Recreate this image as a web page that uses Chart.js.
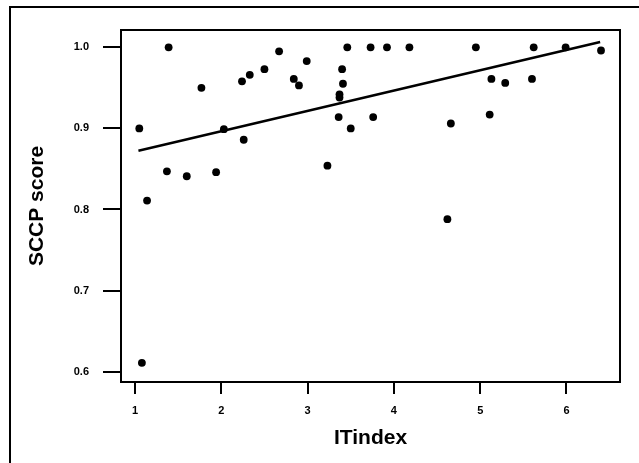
<!DOCTYPE html>
<html>
<head>
<meta charset="utf-8">
<script src="https://cdn.jsdelivr.net/npm/chart.js@4/dist/chart.umd.min.js"></script>
<style>
  body { margin: 0; background: #fff; }
  #wrap { width: 639px; height: 463px; }
</style>
</head>
<body>
<div id="wrap"><canvas id="plot" width="639" height="463"></canvas></div>
<script>
// values
const itIndex = [1.05, 1.08, 1.14, 1.37, 1.39, 1.60, 1.77, 1.94, 2.03, 2.24, 2.26, 2.33, 2.50, 2.67, 2.84, 2.90, 2.99, 3.23, 3.36, 3.37, 3.37, 3.40, 3.41, 3.46, 3.50, 3.73, 3.76, 3.92, 4.18, 4.62, 4.66, 4.95, 5.11, 5.13, 5.29, 5.60, 5.62, 5.99, 6.40];
const sccpScore = [0.900, 0.611, 0.811, 0.847, 1.000, 0.841, 0.950, 0.846, 0.899, 0.958, 0.886, 0.966, 0.973, 0.995, 0.961, 0.953, 0.983, 0.854, 0.914, 0.942, 0.938, 0.973, 0.955, 1.000, 0.900, 1.000, 0.914, 1.000, 1.000, 0.788, 0.906, 1.000, 0.917, 0.961, 0.956, 0.961, 1.000, 1.000, 0.996];

// fitted line ends
const fitX = [1.04, 6.39];
const fitY = [0.8725, 1.0065];

const xTicks = [1, 2, 3, 4, 5, 6];
const yTicks = [0.6, 0.7, 0.8, 0.9, 1.0];

const points = itIndex.map((x, i) => ({ x: x, y: sccpScore[i] }));
const fit = fitX.map((x, i) => ({ x: x, y: fitY[i] }));

const boxes = {
    id: "boxes",
    afterDraw(chart) {
        const ctx = chart.ctx;
        const a = chart.chartArea;
        ctx.save();
        ctx.strokeStyle = "#000";
        ctx.lineWidth = 2;
        ctx.strokeRect(a.left, a.top, a.right - a.left, a.bottom - a.top);
        // outer page border
        ctx.beginPath();
        ctx.moveTo(10, 463);
        ctx.lineTo(10, 7);
        ctx.lineTo(639, 7);
        ctx.stroke();
        ctx.restore();
    }
};

const font = "'Liberation Sans', Arial, sans-serif";

new Chart(document.getElementById("plot").getContext("2d"), {
    type: "scatter",
    data: {
        datasets: [{
            label: "fit",
            type: "line",
            data: fit,
            borderColor: "#000",
            borderWidth: 2.5,
            pointRadius: 0,
            fill: false
        }, {
            label: "SCCP",
            data: points,
            backgroundColor: "#000",
            borderColor: "#000",
            pointRadius: 3.9,
            borderWidth: 0
        }]
    },
    plugins: [boxes],
    options: {
        responsive: false,
        animation: false,
        layout: { padding: { left: 0, top: 30, right: 19, bottom: 0 } },
        plugins: { legend: { display: false }, tooltip: { enabled: false } },
        scales: {
            x: {
                type: "linear",
                min: 0.838,
                max: 6.62,
                afterFit: s => { s.height = 81; },
                afterBuildTicks: s => { s.ticks = xTicks.map(v => ({ value: v })); },
                ticks: { color: "#000", padding: 10, font: { family: font, size: 11, weight: "bold" } },
                grid: { drawOnChartArea: false, color: "#000", lineWidth: 2, tickLength: 12 },
                border: { display: false },
                title: { display: true, text: "ITindex", color: "#000", padding: { top: 0, bottom: 12 },
                         font: { family: font, size: 21, weight: "bold" } }
            },
            y: {
                min: 0.5873,
                max: 1.0213,
                afterFit: s => { s.width = 121; },
                afterBuildTicks: s => { s.ticks = yTicks.map(v => ({ value: v })); },
                ticks: { color: "#000", padding: 14, callback: v => v.toFixed(1),
                         font: { family: font, size: 11, weight: "bold" } },
                grid: { drawOnChartArea: false, color: "#000", lineWidth: 2, tickLength: 18 },
                border: { display: false },
                title: { display: true, text: "SCCP score", color: "#000", padding: { top: 25, bottom: 0 },
                         font: { family: font, size: 21, weight: "bold" } }
            }
        }
    }
});
</script>
</body>
</html>
